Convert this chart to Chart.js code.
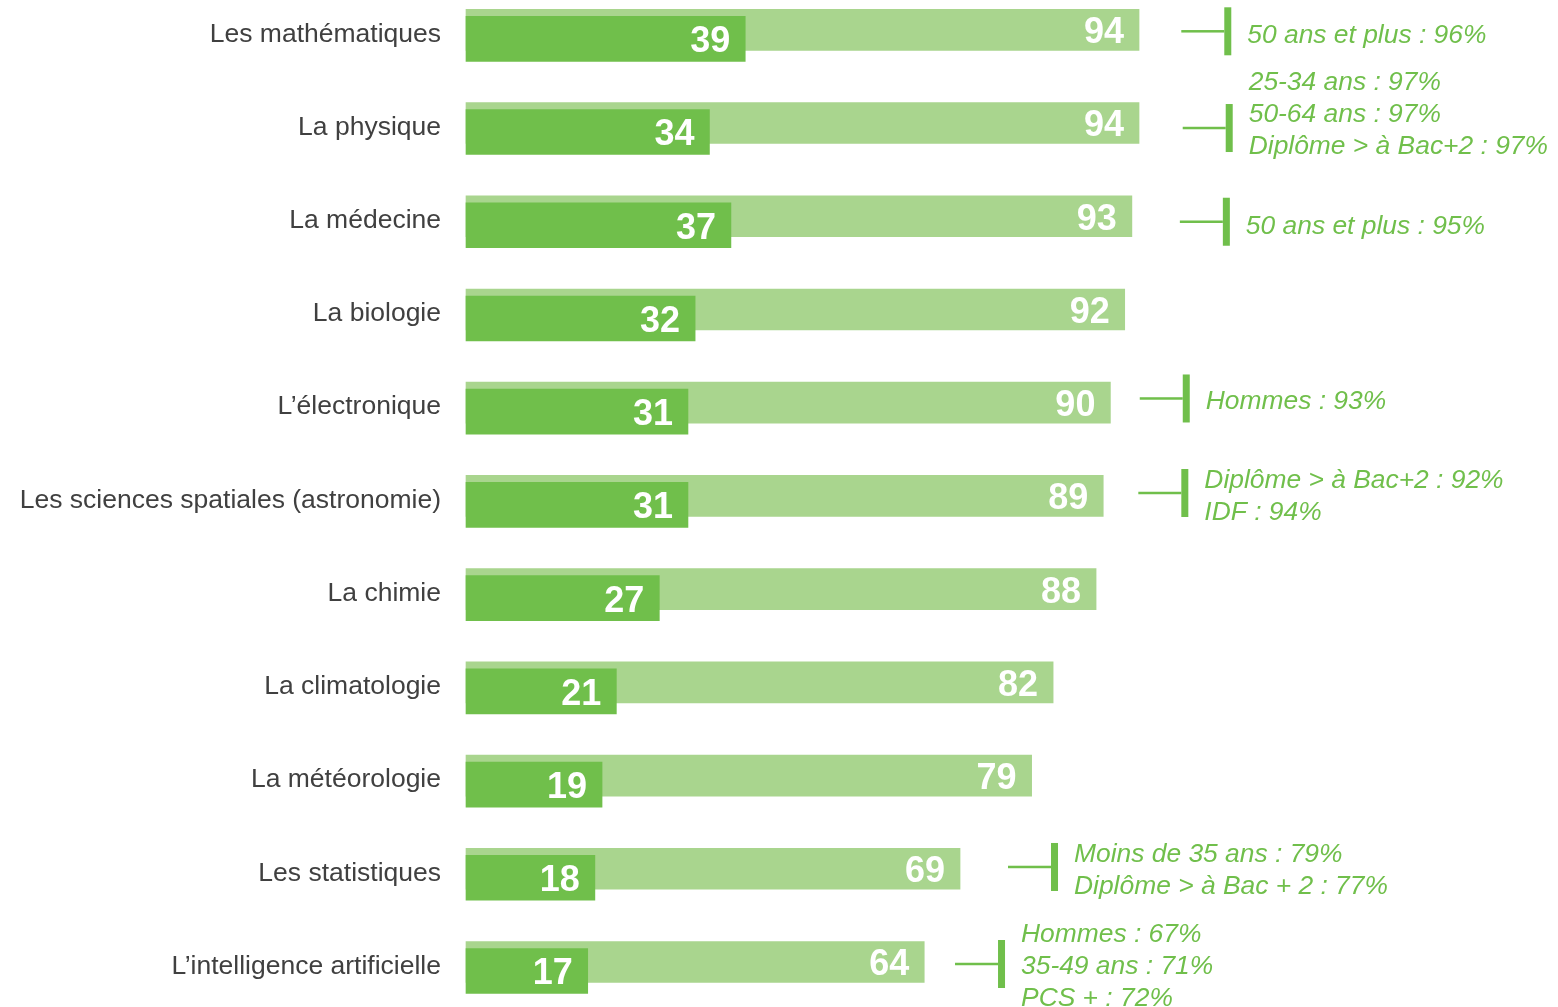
<!DOCTYPE html>
<html>
<head>
<meta charset="utf-8">
<script src="https://cdn.jsdelivr.net/npm/chart.js@4"></script>
<style>
  html, body { margin: 0; padding: 0; background: #fff; }
  canvas { display: block; }
</style>
</head>
<body>
<canvas id="chart" width="1558" height="1007"></canvas>
<script>
// data
const subjects = [
  "Les mathématiques", "La physique", "La médecine", "La biologie",
  "L’électronique", "Les sciences spatiales (astronomie)", "La chimie",
  "La climatologie", "La météorologie", "Les statistiques", "L’intelligence artificielle"
];
const tresInteresse = [39, 34, 37, 32, 31, 31, 27, 21, 19, 18, 17];
const totalInteresse = [94, 94, 93, 92, 90, 89, 88, 82, 79, 69, 64];

// side notes: row index + text lines
const noteRows = [0, 1, 2, 4, 5, 9, 10];
const noteLines = [
  ["50 ans et plus : 96%"],
  ["25-34 ans : 97%", "50-64 ans : 97%", "Diplôme > à Bac+2 : 97%"],
  ["50 ans et plus : 95%"],
  ["Hommes : 93%"],
  ["Diplôme > à Bac+2 : 92%", "IDF : 94%"],
  ["Moins de 35 ans : 79%", "Diplôme > à Bac + 2 : 77%"],
  ["Hommes : 67%", "35-49 ans : 71%", "PCS + : 72%"]
];

const DARK = "#70BF4B";
const LIGHT = "#A9D58E";

// where each note's bracket sits (x in axis units, y shift in px, text shift in px)
const notePos = [
  { x: 99.9, dy: -3, ty: 4 },
  { x: 100.1, dy: 0.5, ty: -13 },
  { x: 99.7, dy: 1, ty: 4.5 },
  { x: 94.1, dy: -8.7, ty: 3.5 },
  { x: 93.9, dy: -7.4, ty: 4 },
  { x: 75.7, dy: -6.3, ty: 4 },
  { x: 68.3, dy: -2.5, ty: 3 }
];

// move the two bars of a row apart vertically
const shiftBars = {
  id: "shiftBars",
  afterDatasetsUpdate(chart) {
    chart.data.datasets.forEach((ds, i) => {
      const meta = chart.getDatasetMeta(i);
      meta.data.forEach(el => { el.y += ds.shiftY; });
    });
  }
};

const valueLabels = {
  id: "valueLabels",
  afterDatasetsDraw(chart) {
    const ctx = chart.ctx;
    ctx.save();
    ctx.fillStyle = "#fff";
    ctx.font = "bold 36px 'Liberation Sans', Arial, sans-serif";
    ctx.textAlign = "right";
    ctx.textBaseline = "middle";
    chart.data.datasets.forEach((ds, i) => {
      chart.getDatasetMeta(i).data.forEach((el, j) => {
        ctx.fillText(String(ds.data[j]), el.x - 15, el.y + 3.5);
      });
    });
    ctx.restore();
  }
};

const sideNotes = {
  id: "sideNotes",
  afterDraw(chart) {
    const ctx = chart.ctx;
    const xs = chart.scales.x, ys = chart.scales.y;
    ctx.save();
    ctx.fillStyle = DARK;
    ctx.font = "italic 26.4px 'Liberation Sans', Arial, sans-serif";
    ctx.textAlign = "left";
    ctx.textBaseline = "middle";
    noteRows.forEach((row, k) => {
      const p = notePos[k];
      const x0 = xs.getPixelForValue(p.x);
      const y0 = ys.getPixelForValue(row) + p.dy;
      ctx.fillRect(x0, y0 - 1.25, 43, 2.5);
      ctx.fillRect(x0 + 43, y0 - 24, 7, 48);
      const lines = noteLines[k];
      const top = y0 + p.ty - (lines.length - 1) * 16;
      lines.forEach((t, n) => ctx.fillText(t, x0 + 66, top + n * 32));
    });
    ctx.restore();
  }
};

new Chart(document.getElementById("chart"), {
  type: "bar",
  data: {
    labels: subjects,
    datasets: [
      { label: "Très intéressé", data: tresInteresse, backgroundColor: DARK, barThickness: 45, shiftY: 4.5 },
      { label: "Intéressé", data: totalInteresse, backgroundColor: LIGHT, barThickness: 41, shiftY: -4.5 }
    ]
  },
  options: {
    responsive: false,
    animation: false,
    indexAxis: "y",
    layout: { padding: { top: 34.3, bottom: 40.5, right: 18, left: 0 } },
    plugins: { legend: { display: false }, tooltip: { enabled: false } },
    scales: {
      x: { display: false, min: 0, max: 150, stacked: false },
      y: {
        offset: false,
        // tick marks are hidden; their length just pushes the labels off the bars
        grid: { display: false, drawTicks: true, tickLength: 25 },
        border: { display: false },
        ticks: {
          color: "#404040",
          padding: 0,
          font: { family: "'Liberation Sans', Arial, sans-serif", size: 26.5 }
        },
        afterFit(scale) { scale.width = 466; }
      }
    },
    datasets: { bar: { grouped: false, borderWidth: 0, clip: false } }
  },
  plugins: [shiftBars, valueLabels, sideNotes]
});
</script>
</body>
</html>
